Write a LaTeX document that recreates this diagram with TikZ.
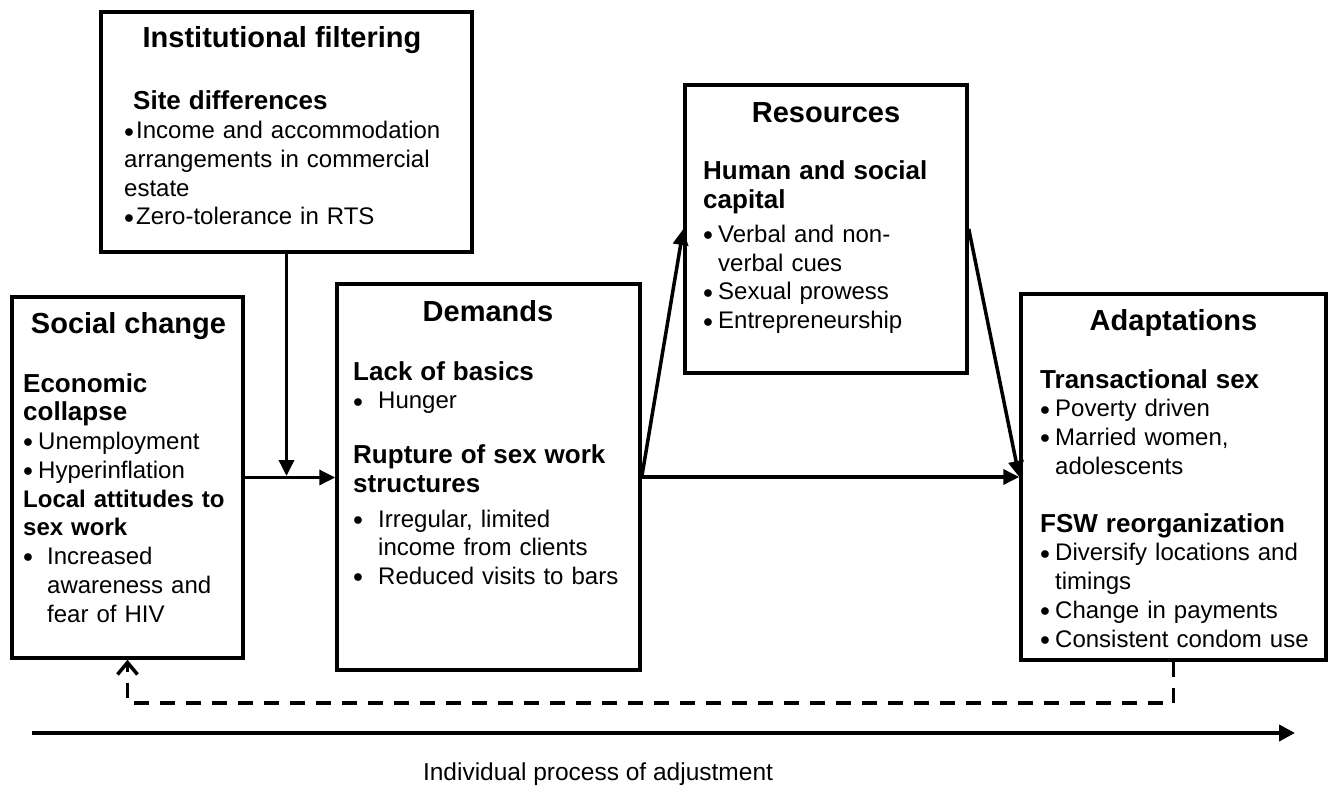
\documentclass[tikz,border=0pt]{standalone}
\usepackage{fontspec}
\setmainfont{Liberation Sans}
\usetikzlibrary{arrows.meta}

% bullet with a box of given width, subheading font
\newcommand{\bul}[1][15pt]{\makebox[#1][l]{\raisebox{1.6pt}{\scalebox{0.8}{$\bullet$}}}}
\newcommand{\subhd}[1]{{\fontsize{26}{28.75}\selectfont\bfseries #1}}

\begin{document}
\begin{tikzpicture}[x=1pt,y=-1pt,
  box/.style={draw,line width=3.5pt,inner sep=0pt},
  title/.style={anchor=base,inner sep=0pt,font=\fontsize{29}{34}\selectfont\bfseries},
  body/.style={anchor=base west,inner sep=0pt,align=left,font=\fontsize{24}{28.75}\selectfont},
  link/.style={line width=3.5pt,-{Triangle[length=16pt,width=15pt]}},
  feedback/.style={line width=3.5pt,dash pattern=on 15pt off 11pt,-{Straight Barb[length=12pt,width=20pt]}},
  timeline/.style={line width=4.5pt,-{Triangle[length=16pt,width=16pt]}}]
  \useasboundingbox (0,0) rectangle (1329,799);

  % the five boxes
  \node[box,minimum width=371pt,minimum height=240pt] (inst) at (286.5,132) {};
  \node[box,minimum width=231pt,minimum height=361pt] (social) at (127.5,477.5) {};
  \node[box,minimum width=303pt,minimum height=386pt] (demands) at (488.5,477) {};
  \node[box,minimum width=282pt,minimum height=288pt] (res) at (826,229) {};
  \node[box,minimum width=305pt,minimum height=366pt] (adapt) at (1173.5,477) {};

  % titles
  \node[title] (inst-title) at (282,48) {Institutional filtering};
  \node[title] (social-title) at (128.5,333) {Social change};
  \node[title] (demands-title) at (488,321) {Demands};
  \node[title] (res-title) at (826,123) {Resources};
  \node[title] (adapt-title) at (1173.5,330) {Adaptations};

  % box contents
  \node[body,text width=345pt] (inst-text) at (124,110) {%
    \hspace*{9pt}\subhd{Site differences}\\
    \bul[12pt]Income and accommodation\\
    arrangements in commercial\\
    estate\\
    \bul[12pt]Zero-tolerance in RTS};
  \node[body,text width=230pt] (social-text) at (23,392) {%
    \subhd{Economic}\\
    \subhd{collapse}\\
    \bul Unemployment\\
    \bul Hyperinflation\\
    {\bfseries Local attitudes to}\\
    {\bfseries sex work}\\
    \bul[24pt]Increased\\
    \hspace*{24pt}awareness and\\
    \hspace*{24pt}fear of HIV};
  \node[body,text width=285pt] (demands-text) at (353,380) {%
    \subhd{Lack of basics}\\
    \bul[25pt]Hunger\\[26pt]
    \subhd{Rupture of sex work}\\
    \subhd{structures}\\[6pt]
    \bul[25pt]Irregular, limited\\
    \hspace*{25pt}income from clients\\
    \bul[25pt]Reduced visits to bars};
  \node[body,text width=260pt] (res-text) at (703,180) {%
    \subhd{Human and social}\\
    \subhd{capital}\\[5pt]
    \bul Verbal and non-\\
    \hspace*{15pt}verbal cues\\
    \bul Sexual prowess\\
    \bul Entrepreneurship};
  \node[body,text width=285pt] (adapt-text) at (1040,388) {%
    \subhd{Transactional sex}\\
    \bul Poverty driven\\
    \bul Married women,\\
    \hspace*{15pt}adolescents\\[29pt]
    \subhd{FSW reorganization}\\
    \bul Diversify locations and\\
    \hspace*{15pt}timings\\
    \bul Change in payments\\
    \bul Consistent condom use};

  % connectors
  \draw[link] (social.east) -- (social.east -| demands.west);
  \draw[link] (inst.south) -- ([yshift=1.5pt]inst.south |- social.east);
  \draw[link] (demands.east) -- (res.west);
  \draw[link] (res.east) -- (adapt.west);
  \draw[link] (demands.east) -- (adapt.west);
  %feedback loop
  \draw[feedback] (adapt.south) -- ++(0,41) -| (social.south);

  % time axis
  \coordinate (tstart) at (32,733);
  \coordinate (tend) at (1295,733);
  \draw[timeline] (tstart) -- (tend);
  \node[anchor=base,inner sep=0pt,font=\fontsize{24.5}{28}\selectfont] (tlabel) at (598,780) {Individual process of adjustment};
\end{tikzpicture}
\end{document}
